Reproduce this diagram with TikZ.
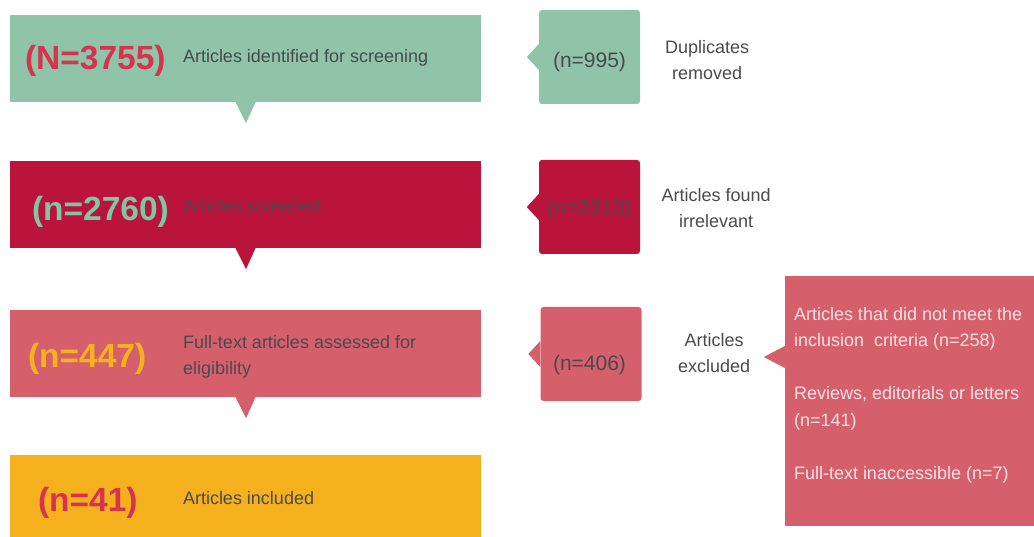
\documentclass[tikz,border=0pt]{standalone}
\usepackage{fontspec}
\setmainfont{Liberation Sans}
\usepackage{xcolor}
\usetikzlibrary{positioning, calc}

\definecolor{mgreen}{HTML}{8FC4A9}
\definecolor{crim}{HTML}{BA133C}
\definecolor{rose}{HTML}{D65F6C}
\definecolor{amber}{HTML}{F5B01E}
\definecolor{numred}{HTML}{D7324F}
\definecolor{numgreen}{HTML}{80C6A2}
\definecolor{numamber}{HTML}{F6B21C}
\definecolor{txtgray}{HTML}{4A4A4A}
\definecolor{pale}{HTML}{F7E3E5}

\begin{document}
\begin{tikzpicture}[
    x=1pt, y=1pt,
    mainbox/.style={rectangle, draw=none, inner sep=0pt,
                    minimum width=471pt, minimum height=87pt},
    sidebox/.style={rectangle, draw=none, inner sep=0pt, rounded corners=3pt,
                    minimum width=101pt, minimum height=94pt},
    num/.style={font=\fontsize{33.5}{38}\selectfont\bfseries, inner sep=0pt, anchor=base west},
    cnt/.style={font=\fontsize{21}{26}\selectfont, text=txtgray, inner sep=0pt, anchor=base},
    lbl/.style={font=\fontsize{18}{26.5}\selectfont, text=txtgray, inner sep=0pt},
]
\useasboundingbox (0,0) rectangle (1034,536);

% Main flow (left column)
\node[mainbox, fill=mgreen] (ident) at (245.5,477.5) {};
\node[mainbox, fill=crim] (screen) at (245.5,331.5) {};
\node[mainbox, fill=rose] (elig) at (245.5,182.5) {};
\node[mainbox, fill=amber] (incl) at (245.5,37.5) {};

% Downward pointers
\foreach \b/\c in {ident/mgreen, screen/crim, elig/rose}
  \fill[\c] ($(\b.south)+(-10,0)$) -- ($(\b.south)+(0.5,-21)$) -- ($(\b.south)+(10,0)$) -- cycle;

% Counts and texts in main boxes (base = last line)
\node[num, text=numred] at ($(ident.west)+(15,-11.5)$) {(N=3755)};
\node[lbl, anchor=base west] at ($(ident.west)+(173,-4.5)$) {Articles identified for screening};

\node[num, text=numgreen] at ($(screen.west)+(22,-16.5)$) {(n=2760)};
\node[lbl, anchor=base west] at ($(screen.west)+(173,-8.5)$) {Articles screened};

\node[num, text=numamber] at ($(elig.west)+(18,-14.5)$) {(n=447)};
\node[lbl, anchor=base west, align=left] at ($(elig.west)+(173,-21.5)$)
  {Full-text articles assessed for\\eligibility};

\node[num, text=numred] at ($(incl.west)+(28,-12.5)$) {(n=41)};
\node[lbl, anchor=base west] at ($(incl.west)+(173,-5.5)$) {Articles included};

% Side boxes (removed at each step)
\node[sidebox, fill=mgreen] (dup) at (589.5,479) {};
\node[sidebox, fill=crim] (irrel) at (589.5,329) {};
\node[sidebox, fill=rose] (excl) at (591,182) {};

\foreach \b/\c in {dup/mgreen, irrel/crim, excl/rose}
  \fill[\c] ($(\b.west)+(0,13)$) -- ($(\b.west)+(-12,0)$) -- ($(\b.west)+(0,-13)$) -- cycle;

\node[cnt] at ($(dup.center)+(0,-11)$) {(n=995)};
\node[cnt] at ($(irrel.center)+(0,-8)$) {(n=2313)};
\node[cnt] at ($(excl.center)+(-1.5,-17)$) {(n=406)};

\node[lbl, anchor=base, align=center] at ($(dup.east)+(67,-23)$) {Duplicates\\removed};
\node[lbl, anchor=base, align=center] at ($(irrel.east)+(76,-21)$) {Articles found\\irrelevant};
\node[lbl, anchor=base, align=center] at ($(excl.east)+(72.5,-19)$) {Articles\\excluded};

% Reasons for exclusion
\node[rectangle, fill=rose, inner sep=0pt, minimum width=249pt, minimum height=250pt]
  (reasons) at (909.5,135) {};
\fill[rose] ($(reasons.west)+(0,55)$) -- ($(reasons.west)+(-21,44)$) -- ($(reasons.west)+(0,33)$) -- cycle;
\node[lbl, text=pale, anchor=base west, align=left] at ($(reasons.south west)+(9,47)$)
  {Articles that did not meet the\\inclusion\ \ criteria (n=258)\\[26.5pt]
   Reviews, editorials or letters\\(n=141)\\[26.5pt]
   Full-text inaccessible (n=7)};

\end{tikzpicture}
\end{document}
